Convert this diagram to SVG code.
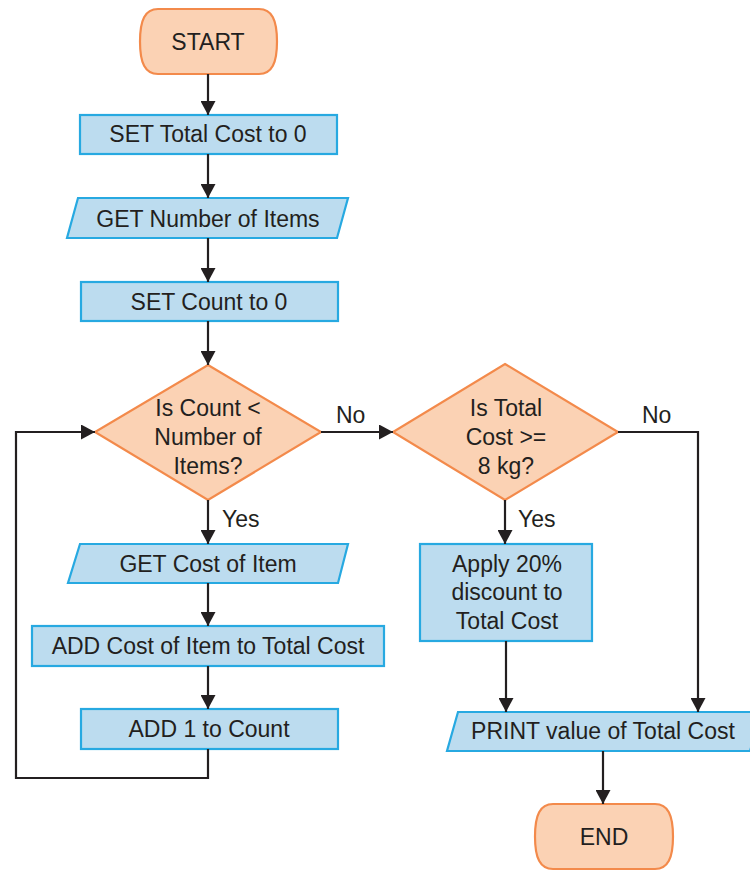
<svg xmlns="http://www.w3.org/2000/svg" width="750" height="875" viewBox="0 0 750 875">
<defs>
<marker id="ah" markerUnits="userSpaceOnUse" markerWidth="15" markerHeight="15" refX="14" refY="7.5" orient="auto">
<path d="M0,0 L14,7.5 L0,15 Z" fill="#231f20"/>
</marker>
<style>
.proc{fill:#bcdcef;stroke:#27a9e1;stroke-width:2.2}
.term{fill:#fbd2b4;stroke:#f38a4b;stroke-width:2.2}
.dec{fill:#fbd2b4;stroke:#f38a4b;stroke-width:2.2}
text{font-family:"Liberation Sans",Arial,sans-serif;font-size:23px;fill:#231f20}
.c{text-anchor:middle}
.conn path{fill:none;stroke:#231f20;stroke-width:2.2;marker-end:url(#ah)}
.conn path.nm{marker-end:none}
</style>
</defs>
<rect width="750" height="875" fill="#ffffff"/>

<g id="start">
<path class="term" d="M158,9 H259 C272,9 277,20 277,41.5 C277,63 272,74 259,74 H158 C145,74 140,63 140,41.5 C140,20 145,9 158,9 Z"/>
<text class="c" x="208" y="50">START</text>
</g>
<g id="setTotal">
<rect class="proc" x="80" y="115" width="257" height="39"/>
<text class="c" x="208" y="142">SET Total Cost to 0</text>
</g>
<g id="getNumber">
<polygon class="proc" points="78,198 348,198 337,238 67,238"/>
<text class="c" x="208" y="227">GET Number of Items</text>
</g>
<g id="setCount">
<rect class="proc" x="81" y="282" width="257" height="39"/>
<text class="c" x="209" y="310">SET Count to 0</text>
</g>
<g id="decCount">
<polygon class="dec" points="208,365 321,432 208,500 95,432"/>
<text class="c" x="208" y="416">Is Count &lt;</text>
<text class="c" x="208" y="445">Number of</text>
<text class="c" x="208" y="474">Items?</text>
</g>
<g id="getCost">
<polygon class="proc" points="80,544 348,544 338,583 68,583"/>
<text class="c" x="208" y="572">GET Cost of Item</text>
</g>
<g id="addCost">
<rect class="proc" x="32" y="626" width="352" height="40"/>
<text class="c" x="208" y="654">ADD Cost of Item to Total Cost</text>
</g>
<g id="addOne">
<rect class="proc" x="81" y="709" width="257" height="40"/>
<text class="c" x="209" y="737">ADD 1 to Count</text>
</g>
<g id="decTotal">
<polygon class="dec" points="505,364 618,432 505,500 393,432"/>
<text class="c" x="506" y="416">Is Total</text>
<text class="c" x="506" y="445">Cost &gt;=</text>
<text class="c" x="506" y="474">8 kg?</text>
</g>
<g id="discount">
<rect class="proc" x="420" y="544" width="172" height="97"/>
<text class="c" x="507" y="572">Apply 20%</text>
<text class="c" x="507" y="600">discount to</text>
<text class="c" x="507" y="629">Total Cost</text>
</g>
<g id="print">
<polygon class="proc" points="458,712 762,712 750,751 447,751"/>
<text class="c" x="603" y="739">PRINT value of Total Cost</text>
</g>
<g id="end">
<path class="term" d="M553,804 H655 C668,804 673,815 673,836.5 C673,858 668,869 655,869 H553 C540,869 535,858 535,836.5 C535,815 540,804 553,804 Z"/>
<text class="c" x="604" y="845">END</text>
</g>

<g id="connectors" class="conn">
<path d="M208,74 V115"/>
<path d="M208,154 V198"/>
<path d="M208,238 V282"/>
<path d="M208,321 V365"/>
<path d="M208,500 V544"/>
<path d="M208,583 V626"/>
<path d="M208,666 V709"/>
<path d="M208,749 V778 H16 V432 H95"/>
<path d="M321,432 H393"/>
<path d="M505,500 V544"/>
<path d="M618,432 H698 V712"/>
<path d="M506,641 V712"/>
<path d="M603,751 V804"/>
<text x="222" y="527">Yes</text>
<text x="518" y="527">Yes</text>
<text x="336" y="423">No</text>
<text x="642" y="423">No</text>
</g>
</svg>
